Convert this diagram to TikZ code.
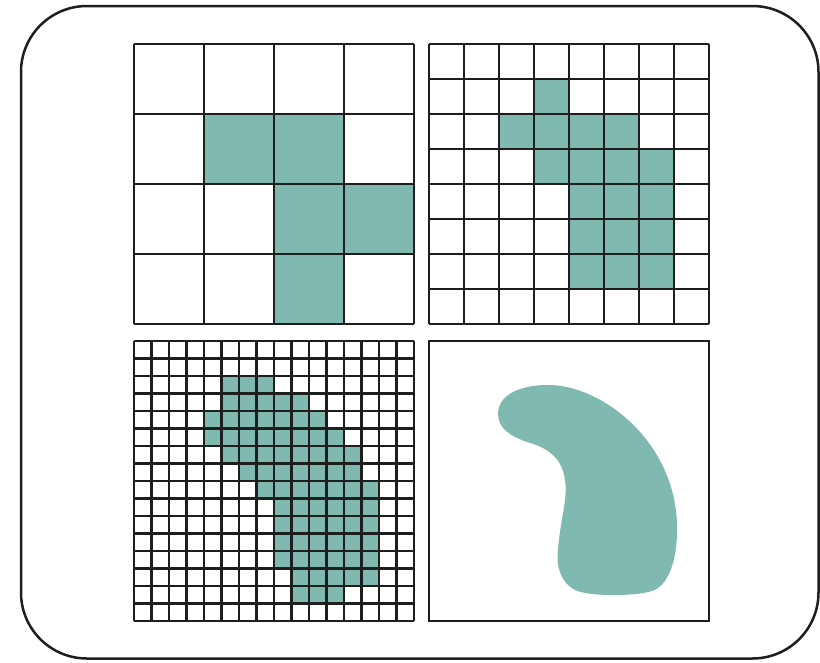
\documentclass[tikz,border=0pt]{standalone}
\definecolor{teal1}{RGB}{128,185,176}
\definecolor{ink}{RGB}{30,30,30}
\tikzset{
  gridline/.style={draw=ink,line width=2.7pt},
  cellfill/.style={fill=teal1},
  frame/.style={draw=ink,line width=2.5pt,rounded corners=66pt},
}
\begin{document}
\begin{tikzpicture}[x=1pt,y=-1pt]
\useasboundingbox (0,0) rectangle (820,662);
\fill[white] (0,0) rectangle (820,662);
\draw[frame] (21,6) rectangle (818.5,658.5);
% top-left 4x4
\foreach \r/\a/\b in {1/1/2,2/2/3,3/2/2}
  \fill[cellfill] (134+\a*70,44+\r*70) rectangle ++({(\b-\a+1)*70},70);
\foreach \i in {0,...,4}{
  \draw[gridline] (134+\i*70,44) -- (134+\i*70,324);
  \draw[gridline] (134,44+\i*70) -- (414,44+\i*70);
}
% top-right 8x8
\foreach \r/\a/\b in {1/3/3,2/2/5,3/3/6,4/4/6,5/4/6,6/4/6}
  \fill[cellfill] (429+\a*35,44+\r*35) rectangle ++({(\b-\a+1)*35},35);
\foreach \i in {0,...,8}{
  \draw[gridline] (429+\i*35,44) -- (429+\i*35,324);
  \draw[gridline] (429,44+\i*35) -- (709,44+\i*35);
}
% bottom-left 16x16
\foreach \r/\a/\b in {2/5/7,3/5/9,4/4/10,5/4/11,6/5/12,7/6/12,8/7/13,9/8/13,10/8/13,11/8/13,12/8/13,13/9/13,14/9/11}
  \fill[cellfill] (134+\a*17.5,341+\r*17.5) rectangle ++({(\b-\a+1)*17.5},17.5);
\foreach \i in {0,...,16}{
  \draw[gridline] (134+\i*17.5,341) -- (134+\i*17.5,621);
  \draw[gridline] (134,341+\i*17.5) -- (414,341+\i*17.5);
}
% bottom-right blob
\fill[teal1] (498,414)
  .. controls (498,394) and (522,385) .. (547,385)
  .. controls (600,384) and (675,440) .. (677,525)
  .. controls (678,560) and (668,588) .. (650,591.5)
  .. controls (635,596) and (590,597) .. (575,590)
  .. controls (560,582) and (556,565) .. (558,550)
  .. controls (560,520) and (568,500) .. (565,480)
  .. controls (562,456) and (545,447) .. (527,442)
  .. controls (510,436) and (498,428) .. (498,414) -- cycle;
\draw[gridline] (429,341) rectangle (709,621);
\end{tikzpicture}
\end{document}
